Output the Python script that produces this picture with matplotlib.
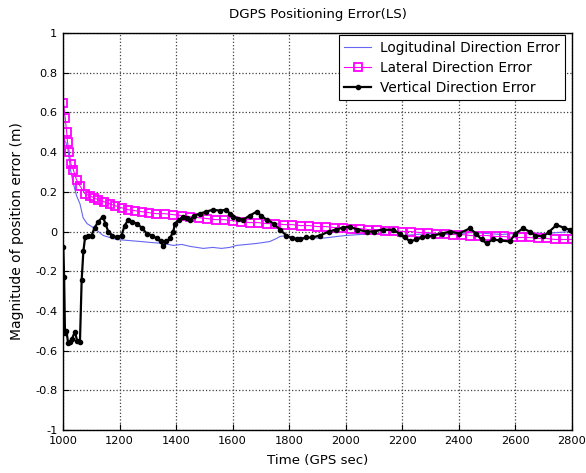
import numpy as np
import matplotlib
matplotlib.use('Agg')
from matplotlib import pyplot as plt

# longitudinal (blue line)
t_lon = [1003, 1010, 1018, 1028, 1037, 1048, 1060, 1071, 1085, 1107, 1125, 1142, 1165, 1190,
         1230, 1272, 1310, 1355, 1390, 1420, 1450, 1496, 1530, 1560, 1590, 1614, 1650, 1685,
         1710, 1732, 1755, 1767, 1790, 1820, 1850, 1880, 1909, 1940, 1968, 2000, 2050, 2100,
         2150, 2200, 2250, 2300, 2350, 2400, 2450, 2500, 2550, 2600, 2650, 2700, 2750, 2800]
e_lon = [0.46, 0.45, 0.41, 0.30, 0.24, 0.18, 0.14, 0.07, 0.04, 0.02, 0.0, -0.02, -0.03, -0.04,
         -0.045, -0.05, -0.055, -0.06, -0.07, -0.065, -0.075, -0.085, -0.08, -0.085, -0.08, -0.07,
         -0.065, -0.06, -0.055, -0.05, -0.035, -0.025, -0.02, -0.03, -0.03, -0.03, -0.035, -0.03,
         -0.025, -0.02, -0.015, -0.01, -0.015, -0.02, -0.015, -0.01, -0.015, -0.01, -0.005, -0.01,
         -0.015, -0.01, -0.005, -0.01, -0.005, 0.0]

# lateral (magenta squares)
t_lat = [1001, 1008, 1013, 1016, 1022, 1028, 1037, 1048, 1060, 1078, 1095, 1110, 1125, 1145,
         1165, 1185, 1207, 1230, 1255, 1280, 1305, 1330, 1360, 1390, 1420, 1450, 1480, 1510,
         1540, 1570, 1600, 1630, 1660, 1690, 1720, 1750, 1780, 1810, 1840, 1870, 1900, 1930,
         1960, 1990, 2020, 2050, 2080, 2110, 2140, 2170, 2200, 2230, 2260, 2290, 2320, 2350,
         2380, 2410, 2440, 2470, 2500, 2530, 2560, 2590, 2620, 2650, 2680, 2710, 2740, 2770, 2800]
e_lat = [0.65, 0.57, 0.50, 0.45, 0.40, 0.34, 0.31, 0.26, 0.23, 0.19, 0.18, 0.17, 0.16, 0.15,
         0.14, 0.13, 0.12, 0.11, 0.105, 0.10, 0.095, 0.09, 0.09, 0.085, 0.08, 0.075, 0.07, 0.065,
         0.06, 0.06, 0.055, 0.05, 0.045, 0.045, 0.04, 0.04, 0.035, 0.035, 0.03, 0.03, 0.025, 0.025,
         0.02, 0.02, 0.015, 0.015, 0.01, 0.01, 0.005, 0.005, 0.0, 0.0, -0.005, -0.005, -0.01, -0.01,
         -0.015, -0.015, -0.02, -0.02, -0.02, -0.025, -0.025, -0.03, -0.03, -0.03, -0.035, -0.035,
         -0.04, -0.04, -0.04]

# vertical (black dots)
t_ver = [1001, 1004, 1007, 1012, 1018, 1025, 1032, 1042, 1050, 1060, 1066, 1072, 1078, 1090,
         1101, 1112, 1125, 1141, 1150, 1160, 1175, 1190, 1207, 1218, 1231, 1245, 1260, 1278,
         1296, 1315, 1331, 1345, 1355, 1366, 1378, 1390, 1396, 1410, 1425, 1437, 1449, 1465,
         1484, 1505, 1531, 1555, 1578, 1590, 1602, 1620, 1637, 1660, 1685, 1700, 1720, 1745,
         1767, 1790, 1810, 1826, 1838, 1860, 1880, 1909, 1940, 1965, 1990, 2015, 2040, 2074,
         2100, 2130, 2168, 2190, 2210, 2227, 2250, 2270, 2286, 2310, 2340, 2370, 2400, 2439,
         2460, 2480, 2498, 2520, 2545, 2580, 2600, 2627, 2650, 2670, 2698, 2720, 2745, 2770,
         2793, 2800]
e_ver = [-0.08, -0.23, -0.51, -0.50, -0.56, -0.555, -0.54, -0.505, -0.55, -0.555, -0.245, -0.10,
         -0.03, -0.02, -0.02, 0.02, 0.05, 0.075, 0.04, 0.0, -0.02, -0.03, -0.02, 0.03, 0.06, 0.05,
         0.04, 0.02, -0.01, -0.02, -0.035, -0.05, -0.075, -0.05, -0.035, 0.0, 0.04, 0.06, 0.075,
         0.07, 0.06, 0.08, 0.09, 0.10, 0.11, 0.105, 0.11, 0.09, 0.075, 0.065, 0.06, 0.08, 0.10,
         0.08, 0.06, 0.04, 0.01, -0.02, -0.035, -0.04, -0.04, -0.03, -0.03, -0.02, 0.0, 0.01,
         0.02, 0.025, 0.01, 0.0, 0.0, 0.01, 0.008, -0.01, -0.03, -0.05, -0.04, -0.03, -0.025,
         -0.02, -0.01, 0.0, -0.01, 0.016, -0.01, -0.04, -0.06, -0.04, -0.045, -0.05, -0.01, 0.016,
         0.0, -0.02, -0.025, 0.0, 0.033, 0.02, 0.008, 0.005]

plt.rcParams['font.family'] = ['DejaVu Sans']
fig = plt.figure(figsize=(5.86, 4.73), dpi=100)
ax = fig.add_axes([0.1075, 0.091, 0.8686, 0.839])

ax.plot(t_lon, e_lon, color=(0.4, 0.4, 0.95), lw=0.8, label='Logitudinal Direction Error')
ax.plot(t_lat, e_lat, color='magenta', lw=0.8, marker='s', ms=6, mfc='none', mew=1.3,
        label='Lateral Direction Error')
ax.plot(t_ver, e_ver, color='black', lw=1.6, marker='.', ms=6, label='Vertical Direction Error')

ax.set_xlim(1000, 2800)
ax.set_ylim(-1, 1)
ax.set_xticks(np.arange(1000, 2801, 200))
ax.set_yticks(np.arange(-1, 1.01, 0.2))
ax.set_yticklabels(['-1', '-0.8', '-0.6', '-0.4', '-0.2', '0', '0.2', '0.4', '0.6', '0.8', '1'])
ax.grid(True, linestyle=':', color='0.25', lw=0.9)
ax.tick_params(direction='in', labelsize=8.2, length=4, pad=4)
for s in ax.spines.values():
    s.set_linewidth(1.0)

ax.set_title('DGPS Positioning Error(LS)', fontsize=9.6, pad=11)
ax.set_xlabel('Time (GPS sec)', fontsize=9.6, labelpad=6)
ax.set_ylabel('Magnitude of position error (m)', fontsize=10, labelpad=8)

leg = ax.legend(loc='upper right', bbox_to_anchor=(0.986, 0.995), borderaxespad=0,
                fontsize=9.8, fancybox=False, edgecolor='black', framealpha=1,
                handlelength=2.0, handletextpad=0.6, labelspacing=0.45, borderpad=0.4)
leg.get_frame().set_linewidth(0.8)

plt.savefig('out.png', dpi=100)
